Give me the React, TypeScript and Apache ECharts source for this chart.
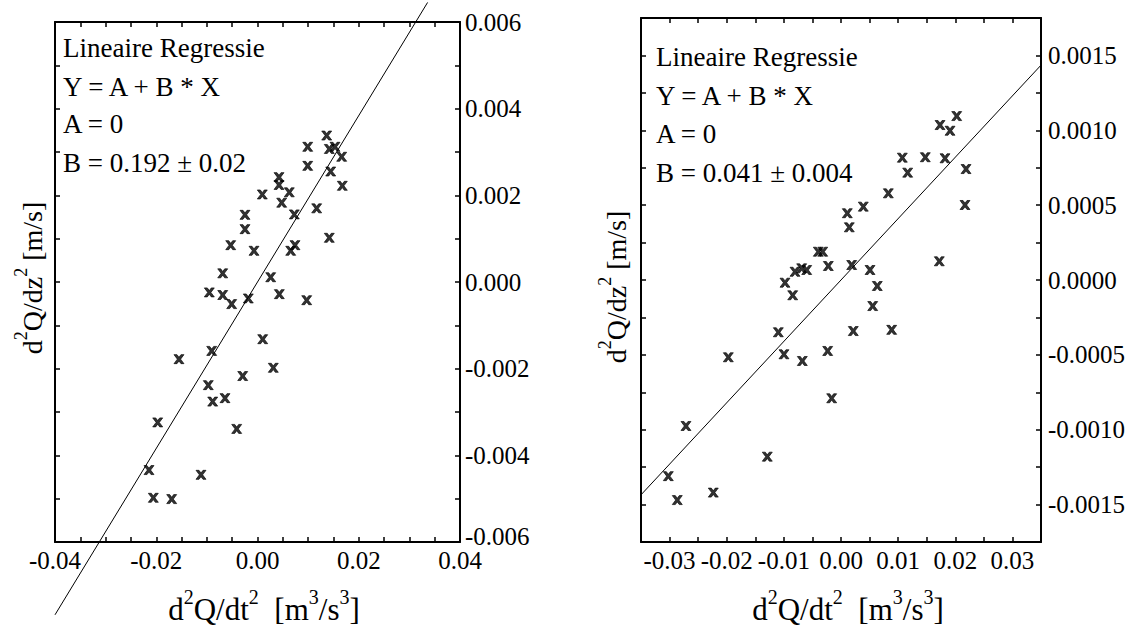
import React, { useEffect, useRef } from "react";
import * as echarts from "echarts";

// ---- Left panel data ----
const leftX = [0.01367, 0.00992, 0.01418, 0.01531, 0.01663, 0.00992, 0.01446, 0.00425, 0.00425, 0.01675, 0.00628, 0.00095, 0.00478, 0.01169, 0.00727, -0.00247, -0.00247, 0.01418, -0.00529, -0.00069, 0.00741, 0.00656, -0.00687, 0.00261, -0.00952, -0.00687, -0.0051, -0.00182, 0.00431, 0.00972, 0.00103, -0.00905, -0.01551, 0.00312, -0.00292, -0.00972, -0.00885, -0.00642, -0.01971, -0.00411, -0.02143, -0.01116, -0.02058, -0.01695];
const leftY = [0.00338, 0.00312, 0.00307, 0.00312, 0.00289, 0.00268, 0.00255, 0.00242, 0.00224, 0.00222, 0.00207, 0.00202, 0.00183, 0.0017, 0.00156, 0.00155, 0.00122, 0.00102, 0.00085, 0.00072, 0.00085, 0.00072, 0.0002, 0.00011, -0.00024, -0.0003, -0.00051, -0.00038, -0.00028, -0.00042, -0.00132, -0.00159, -0.00178, -0.00198, -0.00217, -0.00238, -0.00276, -0.00268, -0.00324, -0.00339, -0.00434, -0.00445, -0.00498, -0.00501];
const leftSlope = 0.192;
const leftLineX = [-0.04, 0.0336];
const leftXTickValues = [-0.04, -0.02, 0.0, 0.02, 0.04];
const leftXTickLabels = ["-0.04", "-0.02", "0.00", "0.02", "0.04"];
const leftYTickValues = [-0.006, -0.004, -0.002, 0.0, 0.002, 0.004, 0.006];
const leftYTickLabels = ["-0.006", "-0.004", "-0.002", "0.000", "0.002", "0.004", "0.006"];
const leftText = ["Lineaire Regressie", "Y = A + B * X", "A = 0", "B = 0.192 ± 0.02"];

// ---- Right panel data ----
const rightX = [0.0011, 0.00145, -0.00397, -0.0032, -0.00222, 0.00187, -0.0098, -0.00805, -0.00688, -0.006, -0.00845, -0.01097, -0.01972, -0.00998, -0.00677, -0.00233, 0.00215, -0.00163, -0.02713, -0.0129, -0.03022, -0.02235, -0.02865, 0.01733, 0.01908, 0.02025, 0.01073, 0.01475, 0.0182, 0.01167, 0.02188, 0.00828, 0.0039, 0.0217, 0.0172, 0.00508, 0.00635, 0.00555, 0.00887];
const rightY = [0.000446, 0.000352, 0.000189, 0.000189, 0.0000935, 0.0001, -0.000018, 0.000055, 0.000078, 0.0000668, -0.000102, -0.000349, -0.000516, -0.000496, -0.000541, -0.000474, -0.000341, -0.00079, -0.000975, -0.00118, -0.00131, -0.00142, -0.00147, 0.001035, 0.000997, 0.001095, 0.000817, 0.00082, 0.000813, 0.000717, 0.000741, 0.000579, 0.00049, 0.000501, 0.000125, 0.0000668, -0.00004, -0.000174, -0.000333];
const rightSlope = 0.041;
const rightLineX = [-0.035, 0.035];
const rightXTickValues = [-0.03, -0.02, -0.01, 0.0, 0.01, 0.02, 0.03];
const rightXTickLabels = ["-0.03", "-0.02", "-0.01", "0.00", "0.01", "0.02", "0.03"];
const rightYTickValues = [-0.0015, -0.001, -0.0005, 0.0, 0.0005, 0.001, 0.0015];
const rightYTickLabels = ["-0.0015", "-0.0010", "-0.0005", "0.0000", "0.0005", "0.0010", "0.0015"];
const rightText = ["Lineaire Regressie", "Y = A + B * X", "A = 0", "B = 0.041 ± 0.004"];

const FONT = "Liberation Serif";
const CROSS = "path://M0,0 L3,0 L5,3 L7,0 L10,0 L6.6,5 L10,10 L7,10 L5,7 L3,10 L0,10 L3.4,5 Z";

function labelFor(values: number[], labels: string[], lowStyle?: string) {
  return (v: number) => {
    for (let i = 0; i < values.length; i++) {
      if (Math.abs(values[i] - v) < 1e-9) {
        if (lowStyle && i === 0) return "{" + lowStyle + "|" + labels[i] + "}";
        return labels[i];
      }
    }
    return "";
  };
}

const tickRich = {
  lo: { fontFamily: FONT, fontSize: 25, color: "#000", padding: [0, 0, 12, 0] },
};

function makeXAxes(grid: number, min: number, max: number, interval: number, vals: number[], labs: string[]) {
  const base = {
    gridIndex: grid,
    type: "value",
    min,
    max,
    interval,
    splitLine: { show: false },
    axisLine: { show: true, onZero: false, lineStyle: { color: "#000", width: 2 } },
    axisTick: { show: true, inside: true, length: 5, lineStyle: { color: "#000", width: 1.5 } },
  };
  return [
    {
      ...base,
      position: "bottom",
      axisLabel: { show: true, margin: 6, color: "#000", fontFamily: FONT, fontSize: 25, formatter: labelFor(vals, labs) },
    },
    { ...base, position: "top", axisLabel: { show: false } },
  ];
}

function makeYAxes(grid: number, min: number, max: number, interval: number, vals: number[], labs: string[], margin: number, lowStyle?: string) {
  const base = {
    gridIndex: grid,
    type: "value",
    min,
    max,
    interval,
    splitLine: { show: false },
    axisLine: { show: true, onZero: false, lineStyle: { color: "#000", width: 2 } },
    axisTick: { show: true, inside: true, length: 5, lineStyle: { color: "#000", width: 1.5 } },
  };
  return [
    {
      ...base,
      position: "right",
      axisLabel: {
        show: true,
        margin,
        color: "#000",
        fontFamily: FONT,
        fontSize: 25,
        rich: tickRich,
        formatter: labelFor(vals, labs, lowStyle),
      },
    },
    { ...base, position: "left", axisLabel: { show: false } },
  ];
}

const rich = {
  n: { fontFamily: FONT, fontSize: 28, color: "#000", lineHeight: 34, verticalAlign: "bottom" },
  s: { fontFamily: FONT, fontSize: 18, color: "#000", lineHeight: 27, verticalAlign: "top" },
};
const richX = {
  n: { fontFamily: FONT, fontSize: 31, color: "#000", lineHeight: 38, verticalAlign: "bottom" },
  s: { fontFamily: FONT, fontSize: 20, color: "#000", lineHeight: 30, verticalAlign: "top" },
};
const yTitle = "{n|d}{s|2}{n|Q/dz}{s|2}{n| [m/s]}";
const xTitle = "{n|d}{s|2}{n|Q/dt}{s|2}{n|  [m}{s|3}{n|/s}{s|3}{n|]}";

function textBlock(lines: string[], x: number, ys: number[]) {
  return lines.map((t, i) => ({
    type: "text",
    x,
    y: ys[i],
    style: { text: t, fontFamily: FONT, fontSize: 27, fill: "#000", textAlign: "left", textVerticalAlign: "middle" },
  }));
}

export default function App() {
  const ref = useRef<HTMLDivElement>(null);
  useEffect(() => {
    if (!ref.current) return;
    const chart = echarts.init(ref.current, null, { renderer: "svg" });
    const leftPts = leftX.map((x, i) => [x, leftY[i]]);
    const rightPts = rightX.map((x, i) => [x, rightY[i]]);
    const leftLine = leftLineX.map((x) => [x, x * leftSlope]);
    const rightLine = rightLineX.map((x) => [x, x * rightSlope]);

    chart.setOption({
      animation: false,
      backgroundColor: "#fff",
      grid: [
        { left: 55, top: 22, width: 405, height: 520 },
        { left: 641, top: 18, width: 400, height: 524 },
      ],
      xAxis: [
        ...makeXAxes(0, -0.04, 0.04, 0.005, leftXTickValues, leftXTickLabels),
        ...makeXAxes(1, -0.035, 0.035, 0.005, rightXTickValues, rightXTickLabels),
      ],
      yAxis: [
        ...makeYAxes(0, -0.006, 0.006, 0.001, leftYTickValues, leftYTickLabels, 5, "lo"),
        ...makeYAxes(1, -0.00175, 0.00175, 0.00025, rightYTickValues, rightYTickLabels, 7),
      ],
      series: [
        { type: "scatter", xAxisIndex: 0, yAxisIndex: 0, data: leftPts, symbol: CROSS, symbolSize: [10, 9], itemStyle: { color: "#000", borderColor: "#000", borderWidth: 0.8 } },
        { type: "line", xAxisIndex: 0, yAxisIndex: 0, data: leftLine, clip: false, showSymbol: false, symbol: "none", lineStyle: { color: "#000", width: 1 } },
        { type: "scatter", xAxisIndex: 2, yAxisIndex: 2, data: rightPts, symbol: CROSS, symbolSize: [10, 9], itemStyle: { color: "#000", borderColor: "#000", borderWidth: 0.8 } },
        { type: "line", xAxisIndex: 2, yAxisIndex: 2, data: rightLine, clip: false, showSymbol: false, symbol: "none", lineStyle: { color: "#000", width: 1 } },
      ],
      graphic: [
        ...textBlock(leftText, 63, [48, 87, 124, 163]),
        ...textBlock(rightText, 656, [57, 96, 134, 173]),
        { type: "text", x: 29, y: 278, rotation: Math.PI / 2, style: { text: yTitle, rich, textAlign: "center", textVerticalAlign: "middle" } },
        { type: "text", x: 613, y: 287, rotation: Math.PI / 2, style: { text: yTitle, rich, textAlign: "center", textVerticalAlign: "middle" } },
        { type: "text", x: 264, y: 606, style: { text: xTitle, rich: richX, textAlign: "center", textVerticalAlign: "middle" } },
        { type: "text", x: 848, y: 606, style: { text: xTitle, rich: richX, textAlign: "center", textVerticalAlign: "middle" } },
      ],
    });
    return () => chart.dispose();
  }, []);
  return <div ref={ref} style={{ position: "fixed", left: 0, top: 0, width: 1134, height: 631, background: "#fff" }} />;
}
